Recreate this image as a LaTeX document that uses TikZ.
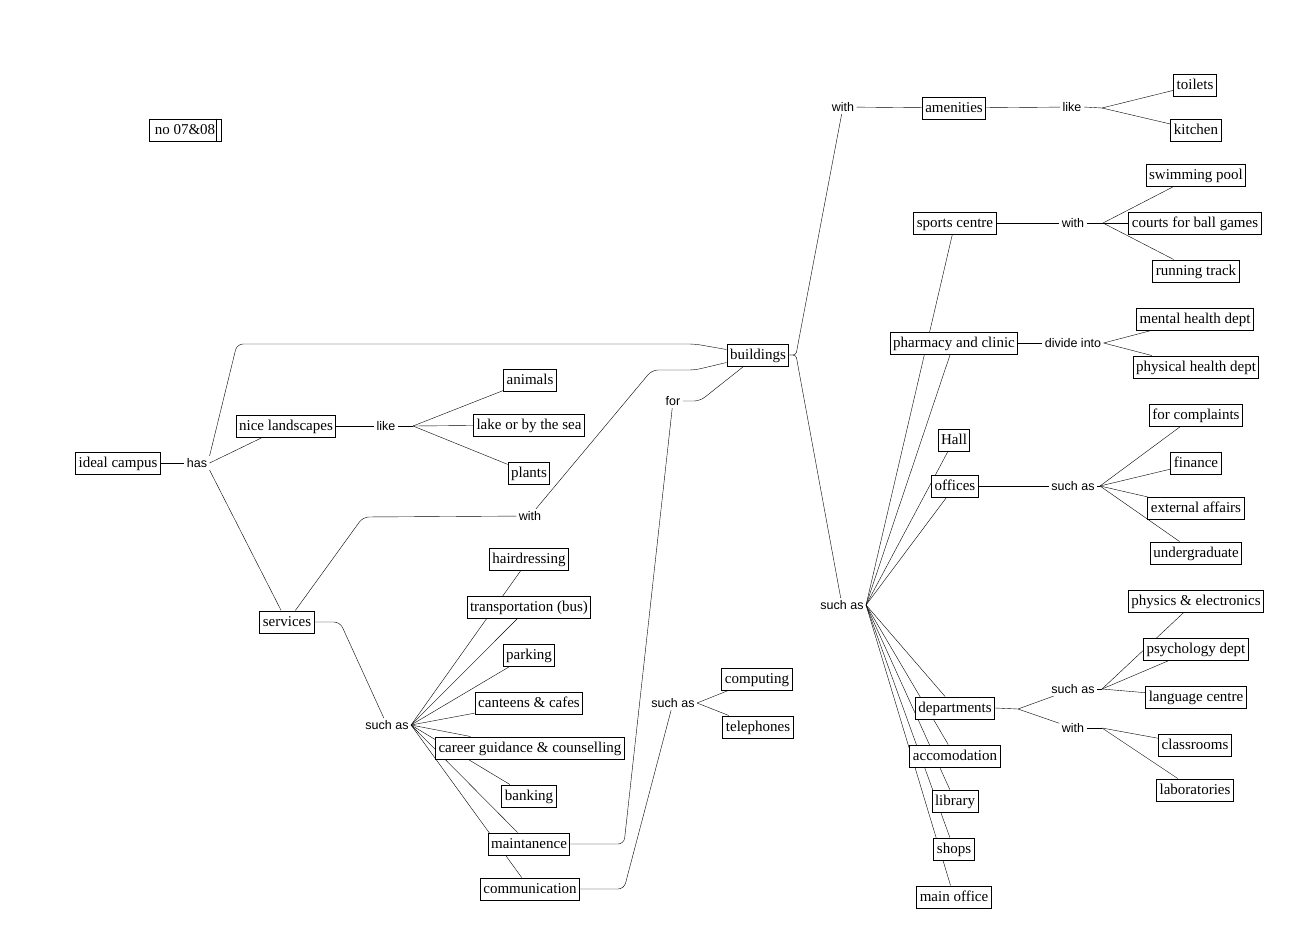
\documentclass[tikz,border=0pt]{standalone}
\usepackage{fontspec}
\setmainfont{Liberation Serif}
\setsansfont{Liberation Sans}
\usetikzlibrary{backgrounds}

\begin{document}
\begin{tikzpicture}[
  x=1pt,y=-1pt,
  line width=1pt,
  concept/.style={draw,fill=white,inner xsep=3pt,inner ysep=0pt,minimum height=22pt,text height=11.5pt,text depth=2.5pt,font=\fontsize{15}{18}\selectfont},
  link/.style={inner sep=2pt,font=\sffamily\fontsize{12.5}{15}\selectfont},
  elbow/.style={rounded corners=6pt}
]
  \useasboundingbox (0,0) rectangle (1304,948);
  \node[concept,minimum width=72pt] (no) at (185,130) {no 07\&08\hspace{4pt}};
  \node[concept] (campus) at (118,463) {ideal campus};
  \node[link] (has) at (197,463) {has};
  \node[concept] (land) at (286,426) {nice landscapes};
  \node[link] (like1) at (386,426) {like};
  \node[concept] (anim) at (530,380) {animals};
  \node[concept] (lake) at (529,425) {lake or by the sea};
  \node[concept] (plant) at (529,473) {plants};
  \node[concept] (serv) at (287,622) {services};
  \node[link] (with1) at (530,516) {with};
  \node[concept] (bld) at (758,355) {buildings};
  \node[link] (such1) at (387,725) {such as};
  \node[concept] (hair) at (529,559) {hairdressing};
  \node[concept] (trans) at (529,607) {transportation (bus)};
  \node[concept] (park) at (529,655) {parking};
  \node[concept] (cant) at (529,703) {canteens \& cafes};
  \node[concept] (career) at (530,748) {career guidance \& counselling};
  \node[concept] (bank) at (529,796) {banking};
  \node[concept] (maint) at (529,844) {maintanence};
  \node[concept] (comm) at (530,889) {communication};
  \node[link] (for) at (673,401) {for};
  \node[link] (such2) at (673,703) {such as};
  \node[concept] (comp) at (757,679) {computing};
  \node[concept] (tel) at (758,727) {telephones};
  \node[link] (with2) at (843,107) {with};
  \node[concept] (amen) at (954,108) {amenities};
  \node[link] (like2) at (1072,107) {like};
  \node[concept] (toil) at (1195,85) {toilets};
  \node[concept] (kitch) at (1196,130) {kitchen};
  \node[link] (such3) at (842,605) {such as};
  \node[concept] (sport) at (955,223) {sports centre};
  \node[link] (with3) at (1073,223) {with};
  \node[concept] (swim) at (1196,175) {swimming pool};
  \node[concept] (court) at (1195,223) {courts for ball games};
  \node[concept] (track) at (1196,271) {running track};
  \node[concept] (pharm) at (954,343) {pharmacy and clinic};
  \node[link] (divide) at (1073,343) {divide into};
  \node[concept] (mental) at (1195,319) {mental health dept};
  \node[concept] (phys) at (1196,367) {physical health dept};
  \node[concept] (hall) at (954,440) {Hall};
  \node[concept] (off) at (955,486) {offices};
  \node[link] (such4) at (1073,486) {such as};
  \node[concept] (compl) at (1196,415) {for complaints};
  \node[concept] (fin) at (1196,463) {finance};
  \node[concept] (ext) at (1196,508) {external affairs};
  \node[concept] (under) at (1196,553) {undergraduate};
  \node[concept] (dept) at (955,708) {departments};
  \node[link] (such5) at (1073,689) {such as};
  \node[link] (with4) at (1073,728) {with};
  \node[concept] (physel) at (1196,601) {physics \& electronics};
  \node[concept] (psych) at (1196,649) {psychology dept};
  \node[concept] (lang) at (1196,697) {language centre};
  \node[concept] (class) at (1195,745) {classrooms};
  \node[concept] (lab) at (1195,790) {laboratories};
  \node[concept] (accom) at (955,756) {accomodation};
  \node[concept] (lib) at (955,801) {library};
  \node[concept] (shops) at (954,849) {shops};
  \node[concept] (mainoff) at (954,897) {main office};
  \coordinate (like1f) at (413,426);
  \coordinate (like2f) at (1102,108);
  \coordinate (with3f) at (1103,223);
  \coordinate (such4f) at (1100,486);
  \coordinate (deptf) at (1018,709);
  \coordinate (such5f) at (1102,689);
  \coordinate (with4f) at (1102,728);
  \draw ([xshift=-5pt]no.north east) -- ([xshift=-5pt]no.south east);
  \begin{scope}[on background layer]
  \draw (campus) -- (has);
  \draw (has.east) -- (land);
  \draw[elbow] (has.north east) -- (237,344) -- (695,344) -- (bld);
  \draw (has.south east) -- (serv);
  \draw (land) -- (like1);
  \draw (like1.east) -- (like1f);
  \draw (like1f) -- (anim);
  \draw (like1f) -- (lake);
  \draw (like1f) -- (plant);
  \draw[elbow] (serv) -- (363,517) -- (with1);
  \draw[elbow] (with1) -- (652,370) -- (695,370) -- (bld);
  \draw[elbow] (serv.east) -- (340,622) -- (such1);
  \draw (such1.east) -- (hair);
  \draw (such1.east) -- (trans);
  \draw (such1.east) -- (park);
  \draw (such1.east) -- (cant);
  \draw (such1.east) -- (career);
  \draw (such1.east) -- (bank);
  \draw (such1.east) -- (maint);
  \draw (such1.east) -- (comm);
  \draw[elbow] (maint.east) -- (624,844) -- (for);
  \draw[elbow] (for.east) -- (700,401) -- (bld);
  \draw[elbow] (comm.east) -- (624,889) -- (such2);
  \draw (such2.east) -- (comp);
  \draw (such2.east) -- (tel);
  \draw[rounded corners=3pt] (bld.east) -- (796,355) -- (798,344) -- (with2);
  \draw[rounded corners=3pt] (bld.east) -- (796,355) -- (798,366) -- (such3);
  \draw (with2) -- (amen);
  \draw (amen) -- (like2);
  \draw (like2.east) -- (like2f);
  \draw (like2f) -- (toil);
  \draw (like2f) -- (kitch);
  \draw (such3.east) -- (sport);
  \draw (such3.east) -- (pharm);
  \draw (such3.east) -- (hall);
  \draw (such3.east) -- (off);
  \draw (such3.east) -- (dept);
  \draw (such3.east) -- (accom);
  \draw (such3.east) -- (lib);
  \draw (such3.east) -- (shops);
  \draw (such3.east) -- (mainoff);
  \draw (sport) -- (with3);
  \draw (with3.east) -- (with3f);
  \draw (with3f) -- (swim);
  \draw (with3f) -- (court);
  \draw (with3f) -- (track);
  \draw (pharm) -- (divide);
  \draw (divide.east) -- (mental);
  \draw (divide.east) -- (phys);
  \draw (off) -- (such4);
  \draw (such4.east) -- (such4f);
  \draw (such4f) -- (compl);
  \draw (such4f) -- (fin);
  \draw (such4f) -- (ext);
  \draw (such4f) -- (under);
  \draw (dept.east) -- (deptf);
  \draw (deptf) -- (such5);
  \draw (deptf) -- (with4);
  \draw (such5.east) -- (such5f);
  \draw (such5f) -- (physel);
  \draw (such5f) -- (psych);
  \draw (such5f) -- (lang);
  \draw (with4.east) -- (with4f);
  \draw (with4f) -- (class);
  \draw (with4f) -- (lab);
  \end{scope}
\end{tikzpicture}
\end{document}
